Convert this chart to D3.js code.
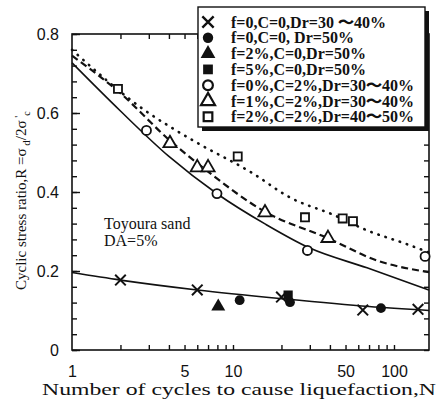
<!DOCTYPE html>
<html lang="en">
<head>
<meta charset="UTF-8">
<title>Cyclic stress ratio vs number of cycles</title>
<script src="https://d3js.org/d3.v7.min.js"></script>
<style>
  body { margin: 0; background: #fff; }
  svg { display: block; }
  .num { font-family: "Liberation Sans", Arial, sans-serif; font-size: 16px; fill: #111; }
  .serif { font-family: "Liberation Serif", "DejaVu Serif", serif; fill: #111; }
</style>
</head>
<body>
<svg width="440" height="406"></svg>
<script>
// ---- data ----
const xTickLabels = [1, 5, 10, 50, 100];
const yTickLabels = [0, 0.2, 0.4, 0.6, 0.8];

// markers [N, R]
const crossPts   = [[2, 0.177], [6, 0.152], [20, 0.134], [64, 0.101], [141, 0.103]];
const fCirclePts = [[11, 0.126], [22.6, 0.121], [83, 0.106]];
const fTriPts    = [[8.1, 0.11]];
const fSquarePts = [[22, 0.139]];
const oCirclePts = [[2.9, 0.556], [7.95, 0.396], [29, 0.252], [156, 0.237]];
const oTriPts    = [[4.06, 0.523], [6, 0.462], [7, 0.462], [15.8, 0.348], [38.9, 0.283]];
const oSquarePts = [[1.93, 0.661], [10.7, 0.49], [28, 0.336], [48, 0.333], [55.6, 0.326]];

// fitted curves [N, R]
const crossCurve  = [[1, 0.196], [2, 0.177], [6, 0.152], [20, 0.13], [70, 0.11], [165, 0.1]];
const solidCurve  = [[1, 0.727], [2, 0.605], [4, 0.49], [8, 0.395], [16, 0.318], [30, 0.258], [68, 0.208], [165, 0.152]];
const dashedCurve = [[1, 0.745], [2, 0.65], [4.06, 0.53], [6.5, 0.462], [15.8, 0.35], [38.9, 0.283], [78, 0.227], [165, 0.197]];
const dottedCurve = [[1, 0.76], [2.76, 0.61], [5.4, 0.535], [13.3, 0.447], [22.6, 0.386], [41.6, 0.343], [68, 0.303], [120, 0.268], [165, 0.247]];

const legendLabels = [
  "f=0,C=0,Dr=30 \u301C40%",
  "f=0,C=0, Dr=50%",
  "f=2%,C=0,Dr=50%",
  "f=5%,C=0,Dr=50%",
  "f=0%,C=2%,Dr=30\u301C40%",
  "f=1%,C=2%,Dr=30\u301C40%",
  "f=2%,C=2%,Dr=40\u301C50%"
];
const legendTypes = ["cross", "fcircle", "ftri", "fsquare", "ocircle", "otri", "osquare"];

// ---- layout ----
const svg = d3.select("svg");
const pL = 72, pR = 429, pT = 34, pB = 350;

const x = d3.scaleLog().domain([1, 165]).range([pL, pR]);
const y = d3.scaleLinear().domain([0, 0.8]).range([pB, pT]);

// frame
svg.append("rect")
  .attr("x", pL).attr("y", pT)
  .attr("width", pR - pL).attr("height", pB - pT)
  .attr("fill", "none").attr("stroke", "#111").attr("stroke-width", 1.6);

// minor ticks
const logMinor = [];
[1, 10, 100].forEach(d => { for (let k = 1; k < 10; k++) if (d * k > 1 && d * k <= 165) logMinor.push(d * k); });
const yMinor = d3.range(0, 0.8001, 0.04);

function tickAxis(axis, tx, ty) {
  const g = svg.append("g").attr("transform", `translate(${tx},${ty})`).call(axis);
  g.select(".domain").remove();
  g.selectAll("line").attr("stroke", "#111").attr("stroke-width", 1.4);
  return g;
}
tickAxis(d3.axisBottom(x).tickValues(logMinor).tickSize(-5).tickFormat(""), 0, pB);
tickAxis(d3.axisTop(x).tickValues(logMinor).tickSize(-5).tickFormat(""), 0, pT);
tickAxis(d3.axisLeft(y).tickValues(yMinor).tickSize(-5).tickFormat(""), pL, 0);
tickAxis(d3.axisRight(y).tickValues(yMinor).tickSize(-5).tickFormat(""), pR, 0);
tickAxis(d3.axisLeft(y).tickValues(yTickLabels).tickSize(-8).tickFormat(""), pL, 0);

// tick labels
const xl = svg.append("g").attr("transform", `translate(0,${pB})`)
  .call(d3.axisBottom(x).tickValues(xTickLabels).tickSize(0).tickPadding(16).tickFormat(d3.format("d")));
xl.select(".domain").remove();
xl.selectAll("text").attr("class", "num");
xl.attr("font-size", null).attr("font-family", null);

const yl = svg.append("g").attr("transform", `translate(${pL},0)`)
  .call(d3.axisLeft(y).tickValues(yTickLabels).tickSize(0).tickPadding(13).tickFormat(d => d === 0 ? "0" : d3.format(".1f")(d)));
yl.select(".domain").remove();
yl.selectAll("text").attr("class", "num").attr("font-size", "17px");
yl.attr("font-size", null).attr("font-family", null);

// axis titles
svg.append("text").attr("class", "serif")
  .attr("x", 42).attr("y", 395)
  .attr("font-size", 17)
  .attr("textLength", 394).attr("lengthAdjust", "spacingAndGlyphs")
  .text("Number of cycles to cause liquefaction,N");

const yt = svg.append("text").attr("class", "serif")
  .attr("transform", "translate(26,290) rotate(-90)")
  .attr("font-size", 15);
yt.append("tspan").text("Cyclic stress ratio,R =\u03C3");
yt.append("tspan").attr("dy", 4).attr("font-size", 11).text(" d");
yt.append("tspan").attr("dy", -4).text("/2\u03C3");
yt.append("tspan").attr("dy", -4).attr("font-size", 11).text(" '");
yt.append("tspan").attr("dy", 8).attr("font-size", 10).text("c");

// annotation
svg.append("text").attr("class", "serif").attr("x", 104).attr("y", 229).attr("font-size", 16).text("Toyoura sand");
svg.append("text").attr("class", "serif").attr("x", 104).attr("y", 246).attr("font-size", 16).text("DA=5%");

// curves
const line = d3.line().x(d => x(d[0])).y(d => y(d[1])).curve(d3.curveMonotoneX);
svg.append("path").attr("d", line(crossCurve)).attr("fill", "none").attr("stroke", "#111").attr("stroke-width", 1.6);
svg.append("path").attr("d", line(solidCurve)).attr("fill", "none").attr("stroke", "#111").attr("stroke-width", 1.6);
svg.append("path").attr("d", line(dashedCurve)).attr("fill", "none").attr("stroke", "#111").attr("stroke-width", 2.2).attr("stroke-dasharray", "7,4");
svg.append("path").attr("d", line(dottedCurve)).attr("fill", "none").attr("stroke", "#111").attr("stroke-width", 2.6)
  .attr("stroke-dasharray", "0.5,7").attr("stroke-linecap", "round");

// markers
const symbolFor = {
  cross:   { type: d3.symbolTimes, size: 75, fill: "none", stroke: 2 },
  fcircle: { type: d3.symbolCircle, size: 75, fill: "#111", stroke: 0 },
  ftri:    { type: d3.symbolTriangle, size: 85, fill: "#111", stroke: 0 },
  fsquare: { type: d3.symbolSquare, size: 85, fill: "#111", stroke: 0 },
  ocircle: { type: d3.symbolCircle, size: 65, fill: "#fff", stroke: 1.8 },
  otri:    { type: d3.symbolTriangle, size: 75, fill: "#fff", stroke: 1.8 },
  osquare: { type: d3.symbolSquare, size: 65, fill: "#fff", stroke: 1.8 }
};
function drawMarkers(pts, kind) {
  const s = symbolFor[kind];
  svg.append("g").selectAll("path").data(pts).join("path")
    .attr("transform", d => `translate(${x(d[0])},${y(d[1])})`)
    .attr("d", d3.symbol().type(s.type).size(s.size))
    .attr("fill", s.fill)
    .attr("stroke", s.stroke ? "#111" : "none")
    .attr("stroke-width", s.stroke);
}
drawMarkers(crossPts, "cross");
drawMarkers(fCirclePts, "fcircle");
drawMarkers(fTriPts, "ftri");
drawMarkers(fSquarePts, "fsquare");
drawMarkers(oCirclePts, "ocircle");
drawMarkers(oTriPts, "otri");
drawMarkers(oSquarePts, "osquare");

// legend
const lg = svg.append("g");
lg.append("rect").attr("x", 202).attr("y", 11).attr("width", 227).attr("height", 120).attr("fill", "#111");
lg.append("rect").attr("x", 198).attr("y", 7).attr("width", 227).attr("height", 120)
  .attr("fill", "#fff").attr("stroke", "#111").attr("stroke-width", 1.4);
const rows = lg.selectAll("g.row").data(legendLabels).join("g")
  .attr("transform", (d, i) => `translate(0,${22 + i * 15.8})`);
rows.append("path")
  .attr("transform", "translate(208,0)")
  .attr("d", (d, i) => d3.symbol().type(symbolFor[legendTypes[i]].type).size(symbolFor[legendTypes[i]].size + 10)())
  .attr("fill", (d, i) => symbolFor[legendTypes[i]].fill)
  .attr("stroke", (d, i) => symbolFor[legendTypes[i]].stroke ? "#111" : "none")
  .attr("stroke-width", (d, i) => symbolFor[legendTypes[i]].stroke + 0.4);
rows.append("text").attr("class", "serif")
  .attr("x", 231).attr("y", 5.5)
  .attr("font-size", 16).attr("font-weight", "bold")
  .text(d => d);
</script>
</body>
</html>
